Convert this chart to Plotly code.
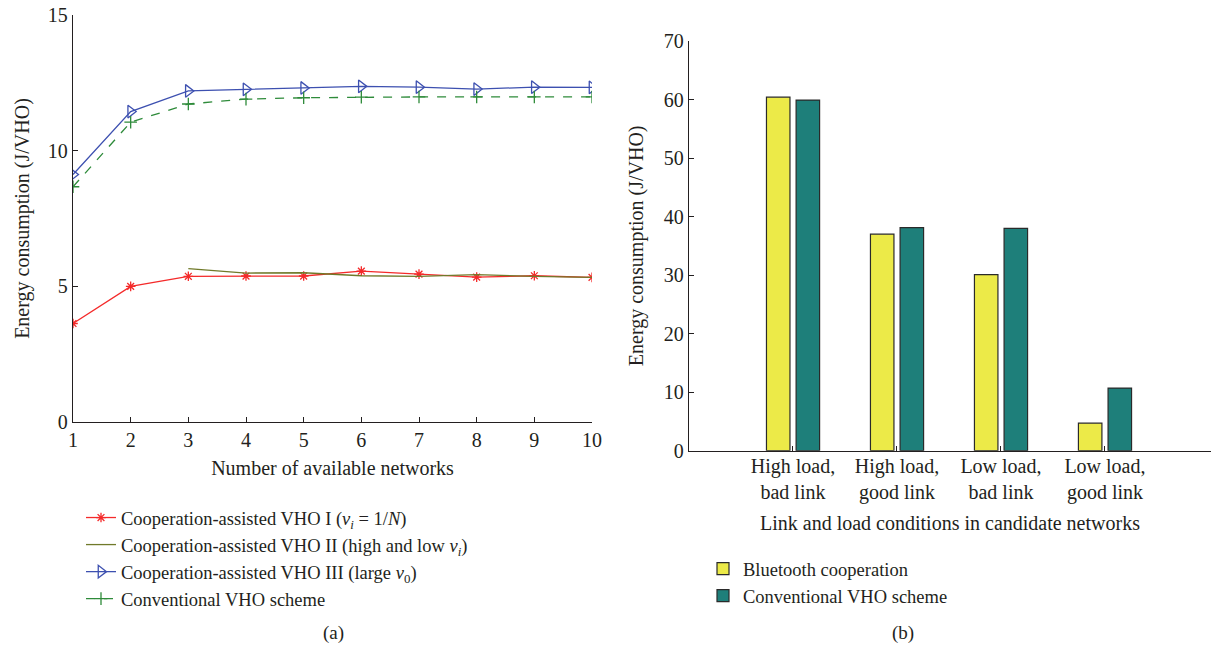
import plotly.graph_objects as go

# ---- data (a) ----
networks = [1, 2, 3, 4, 5, 6, 7, 8, 9, 10]
vho1 = [3.63, 5.00, 5.37, 5.38, 5.38, 5.56, 5.45, 5.34, 5.39, 5.33]
vho2_x = [3, 4, 5, 6, 7, 8, 9, 10]
vho2 = [5.65, 5.49, 5.50, 5.39, 5.37, 5.43, 5.37, 5.33]
vho3 = [9.12, 11.44, 12.20, 12.26, 12.31, 12.37, 12.34, 12.27, 12.34, 12.33]
conv = [8.67, 11.05, 11.72, 11.90, 11.95, 11.97, 11.98, 11.98, 11.98, 11.98]

# ---- data (b) ----
conditions = ["High load,<br>bad link", "High load,<br>good link",
              "Low load,<br>bad link", "Low load,<br>good link"]
cond_pos = [1, 2, 3, 4]
bluetooth = [60.4, 37.0, 30.1, 4.7]
conventional = [59.9, 38.1, 38.0, 10.7]

FONT = "Liberation Serif, DejaVu Serif, serif"
TXT = "#231f20"
FS = 20

fig = go.Figure()

fig.add_trace(go.Scatter(x=networks, y=vho1, mode="lines+markers",
    name="Cooperation-assisted VHO I (<i>ν</i><sub><i>i</i></sub> = 1/<i>N</i>)",
    line=dict(color="#f42a2a", width=1.3),
    marker=dict(symbol="asterisk-open", size=8, line=dict(color="#f42a2a", width=1.3)),
    xaxis="x", yaxis="y", legend="legend"))
fig.add_trace(go.Scatter(x=vho2_x, y=vho2, mode="lines",
    name="Cooperation-assisted VHO II (high and low <i>ν</i><sub><i>i</i></sub>)",
    line=dict(color="#707a2a", width=1.3),
    xaxis="x", yaxis="y", legend="legend"))
fig.add_trace(go.Scatter(x=networks, y=vho3, mode="lines+markers",
    name="Cooperation-assisted VHO III (large <i>ν</i><sub>0</sub>)",
    line=dict(color="#3d50b0", width=1.3),
    marker=dict(symbol="triangle-right-open", size=11, line=dict(color="#3d50b0", width=1.3)),
    xaxis="x", yaxis="y", legend="legend"))
fig.add_trace(go.Scatter(x=networks, y=conv, mode="lines+markers",
    name="Conventional VHO scheme",
    line=dict(color="#2e8b3a", width=1.3, dash="dash"),
    marker=dict(symbol="cross-thin-open", size=9, line=dict(color="#2e8b3a", width=1.3)),
    xaxis="x", yaxis="y", legend="legend"))

fig.add_trace(go.Bar(x=cond_pos, y=bluetooth, name="Bluetooth cooperation",
    marker=dict(color="#ecea48", line=dict(color="#2a2a2a", width=1.2)),
    offset=-0.255, width=0.226, xaxis="x2", yaxis="y2", legend="legend2"))
fig.add_trace(go.Bar(x=cond_pos, y=conventional, name="Conventional VHO scheme",
    marker=dict(color="#1e7f7a", line=dict(color="#2a2a2a", width=1.2)),
    offset=0.03, width=0.226, xaxis="x2", yaxis="y2", legend="legend2"))

axis_common = dict(showline=True, linecolor="#231f20", linewidth=1.3,
                   ticks="inside", ticklen=5, tickcolor="#231f20",
                   showgrid=False, zeroline=False, automargin=False,
                   tickfont=dict(family=FONT, size=FS, color=TXT))
tfont = dict(family=FONT, size=FS, color=TXT)
lfont = dict(family=FONT, size=18.5, color=TXT)

fig.update_layout(
    width=1211, height=648,
    margin=dict(l=0, r=0, t=0, b=0, autoexpand=False),
    paper_bgcolor="white", plot_bgcolor="white",
    font=dict(family=FONT, size=FS, color=TXT),
    showlegend=True,
    barmode="overlay",
    xaxis=dict(domain=[73/1211, 592/1211], range=[1, 10], tickvals=networks,
               title=dict(text="Number of available networks", standoff=10, font=tfont),
               anchor="y", **axis_common),
    yaxis=dict(domain=[1-422/648, 1-15/648], range=[0, 15], tickvals=[0, 5, 10, 15],
               title=dict(text="Energy consumption (J/VHO)", standoff=12, font=tfont),
               anchor="x", **axis_common),
    xaxis2=dict(domain=[689/1211, 1.0], range=[0, 5.02], tickvals=cond_pos,
                ticktext=conditions, ticklabelstandoff=-3,
                title=dict(text="Link and load conditions in candidate networks",
                           standoff=13, font=tfont),
                anchor="y2", **axis_common),
    yaxis2=dict(domain=[1-450.7/648, 1-41/648], range=[0, 70],
                tickvals=[0, 10, 20, 30, 40, 50, 60, 70],
                title=dict(text="Energy consumption (J/VHO)", standoff=14, font=tfont),
                anchor="x2", **axis_common),
    legend=dict(x=81/1211, y=1-499/648, xanchor="left", yanchor="top",
                bgcolor="rgba(0,0,0,0)", tracegroupgap=0, itemwidth=30,
                font=lfont),
    legend2=dict(x=703/1211, y=1-550/648, xanchor="left", yanchor="top",
                 bgcolor="rgba(0,0,0,0)", itemwidth=30, font=lfont),
    annotations=[
        dict(text="(a)", x=333/1211, y=1-633/648, xref="paper", yref="paper",
             xanchor="center", yanchor="middle",
             showarrow=False, font=dict(family=FONT, size=19, color=TXT)),
        dict(text="(b)", x=903/1211, y=1-633/648, xref="paper", yref="paper",
             xanchor="center", yanchor="middle",
             showarrow=False, font=dict(family=FONT, size=19, color=TXT)),
    ],
)

fig.write_html("out.html")
